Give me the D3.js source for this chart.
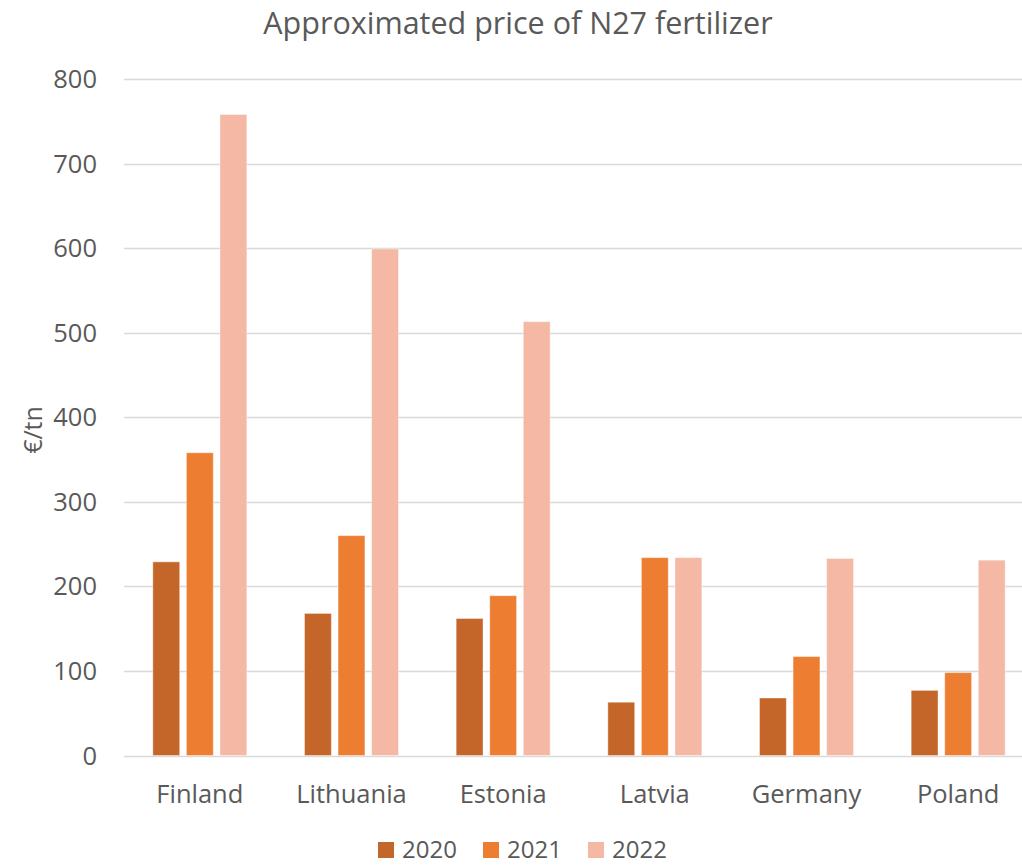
<!DOCTYPE html>
<html>
<head>
<meta charset="utf-8">
<script src="https://cdn.jsdelivr.net/npm/d3@7"></script>
<style>
  body { margin: 0; background: #fff; }
  text { font-family: "Open Sans", "Liberation Sans", sans-serif; fill: #595959; }
</style>
</head>
<body>
<div id="chart"></div>
<script>
const countries = ['Finland', 'Lithuania', 'Estonia', 'Latvia', 'Germany', 'Poland'];
const years = ['2020', '2021', '2022'];
const price2020 = [229, 168, 162, 63, 68, 77];
const price2021 = [358, 260, 189, 234, 117, 98];
const price2022 = [758, 599, 513, 234, 233, 231];
const yTicks = [0, 100, 200, 300, 400, 500, 600, 700, 800];
const colors = ['#C4652A', '#ED7D31', '#F4B8A5'];

const width = 1022;
const height = 865;
const margin = { top: 79, bottom: 110, left: 124 };

const series = [price2020, price2021, price2022];
const rows = countries.map((c, i) => ({ country: c, values: series.map(s => s[i]) }));

const svg = d3.select('#chart')
    .append('svg')
    .attr('width', width)
    .attr('height', height);

const x = d3.scaleBand()
    .domain(countries)
    .range([margin.left, 1034]);

const groupW = 94;
const x1 = d3.scaleBand()
    .domain(years)
    .range([0, groupW])
    .paddingInner(0.2);

const y = d3.scaleLinear()
    .domain([0, 800])
    .range([height - margin.bottom + 0.5, margin.top]);

// gridlines
svg.append('g')
    .selectAll('line')
    .data(yTicks)
    .join('line')
    .attr('x1', margin.left)
    .attr('x2', width)
    .attr('y1', d => Math.round(y(d)) + 0.5)
    .attr('y2', d => Math.round(y(d)) + 0.5)
    .attr('stroke', '#D9D9D9')
    .attr('stroke-width', 1.5);

// y tick labels
svg.append('g')
    .selectAll('text')
    .data(yTicks)
    .join('text')
    .attr('x', 97)
    .attr('y', d => y(d) + 9)
    .attr('text-anchor', 'end')
    .style('font-size', '25.5px')
    .text(d => d);

// bars
const groups = svg.append('g')
    .selectAll('g')
    .data(rows)
    .join('g')
    .attr('transform', d => `translate(${x(d.country) + (x.bandwidth() - groupW) / 2},0)`);

groups.selectAll('rect')
    .data(d => d.values.map((v, i) => ({ year: years[i], value: v, i })))
    .join('rect')
    .attr('x', d => x1(d.year))
    .attr('width', x1.bandwidth())
    .attr('y', d => y(d.value))
    .attr('height', d => y(0) - y(d.value))
    .attr('fill', d => colors[d.i])
    .attr('stroke', '#fff')
    .attr('stroke-opacity', 0.4)
    .attr('stroke-width', 1);

// category labels
svg.append('g')
    .selectAll('text')
    .data(countries)
    .join('text')
    .attr('x', d => x(d) + x.bandwidth() / 2)
    .attr('y', 803)
    .attr('text-anchor', 'middle')
    .style('font-size', '25.5px')
    .text(d => d);

// title
svg.append('text')
    .attr('x', 518)
    .attr('y', 34)
    .attr('text-anchor', 'middle')
    .style('font-size', '30.5px')
    .text('Approximated price of N27 fertilizer');

// y axis title
svg.append('text')
    .attr('transform', 'translate(42,430) rotate(-90)')
    .attr('text-anchor', 'middle')
    .style('font-size', '25px')
    .text('€/tn');

// legend
const legend = svg.append('g')
    .selectAll('g')
    .data(years)
    .join('g')
    .attr('transform', (d, i) => `translate(${378 + i * 105},842)`);

legend.append('rect')
    .attr('width', 16)
    .attr('height', 16)
    .attr('fill', (d, i) => colors[i]);

legend.append('text')
    .attr('x', 24)
    .attr('y', 16)
    .style('font-size', '24px')
    .text(d => d);
</script>
</body>
</html>
